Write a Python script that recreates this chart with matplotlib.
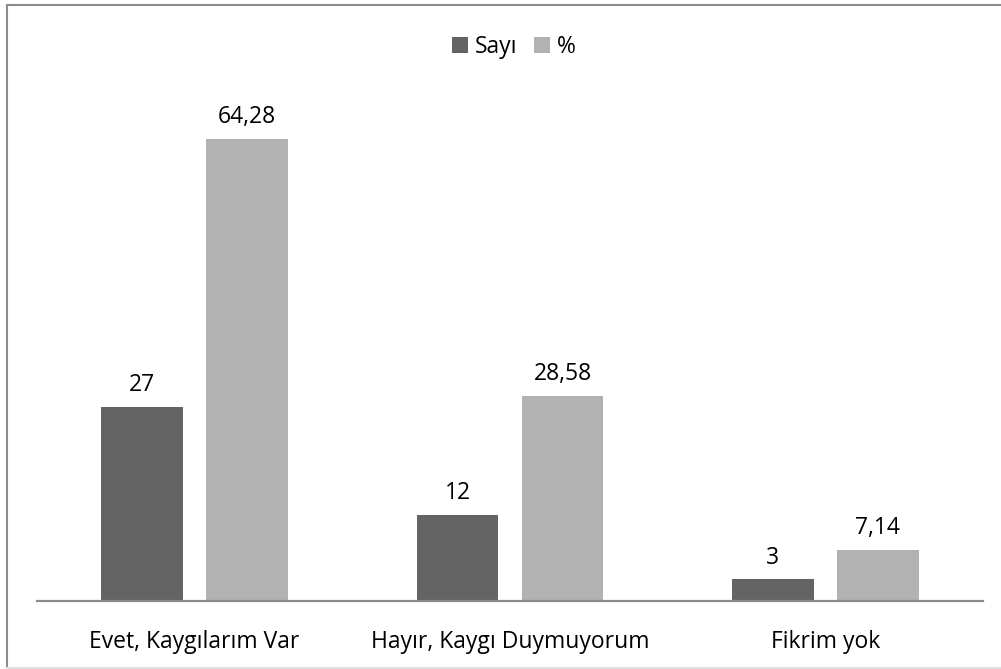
import numpy as np
import matplotlib.pyplot as plt
from matplotlib.lines import Line2D

categories = ['Evet, Kaygılarım Var', 'Hayır, Kaygı Duymuyorum', 'Fikrim yok']
sayi = [27, 12, 3]
yuzde = [64.28, 28.58, 7.14]
sayi_labels = ['27', '12', '3']
yuzde_labels = ['64,28', '28,58', '7,14']

plt.rcParams['font.family'] = ['Open Sans', 'DejaVu Sans']
fs = 16.5

fig = plt.figure(figsize=(10.01, 6.69), dpi=100)
ax = fig.add_axes([37 / 1001, 1 - 601 / 669, 946 / 1001, 521 / 669])

X = np.arange(len(categories))
w = 0.26
b1 = ax.bar(X - 0.1665, sayi, width=w, color='#646464', label='Sayı')
b2 = ax.bar(X + 0.1665, yuzde, width=w, color='#b2b2b2', label='%')
ax.bar_label(b1, labels=sayi_labels, padding=7, fontsize=fs)
ax.bar_label(b2, labels=yuzde_labels, padding=7, fontsize=fs)

ax.set_xlim(-0.5, 2.5)
ax.set_ylim(0, 72.5)
ax.set_xticks(X)
ax.set_xticklabels(categories, fontsize=fs)
ax.tick_params(axis='x', length=0, pad=21)
ax.set_yticks([])
for s in ['top', 'right', 'left']:
    ax.spines[s].set_visible(False)
ax.spines['bottom'].set_color('#8c8c8c')
ax.spines['bottom'].set_linewidth(1.6)

fig.legend(handles=[b1, b2], loc='center', bbox_to_anchor=(514 / 1001, 1 - 47 / 669),
           ncol=2, frameon=False, fontsize=fs, handlelength=0.7, handleheight=0.7,
           handletextpad=0.3, columnspacing=0.7, borderaxespad=0)

# outer chart border (left and top darker, bottom faint)
fig.add_artist(Line2D([7 / 1001, 7 / 1001], [1 / 669, 1 - 5 / 669],
                      transform=fig.transFigure, color='#8c8c8c', lw=1.5))
fig.add_artist(Line2D([7 / 1001, 1.0], [1 - 5 / 669, 1 - 5 / 669],
                      transform=fig.transFigure, color='#8c8c8c', lw=1.5))
fig.add_artist(Line2D([7 / 1001, 1.0], [1 / 669, 1 / 669],
                      transform=fig.transFigure, color='#e0e0e0', lw=1.5))

fig.savefig('out.png', dpi=100)
